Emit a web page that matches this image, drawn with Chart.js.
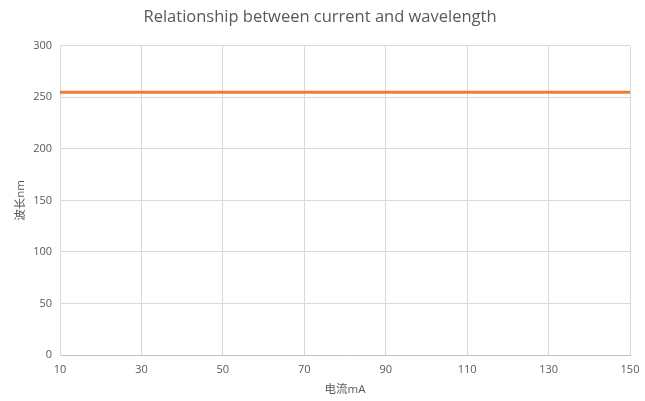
<!DOCTYPE html>
<html>
<head>
<meta charset="utf-8">
<script src="https://cdn.jsdelivr.net/npm/chart.js@4"></script>
<style>
  html, body { margin: 0; padding: 0; background: #fff; overflow: hidden; }
</style>
</head>
<body>
<canvas id="lineChart" width="645" height="401"></canvas>
<script>
// data
const currents = [10, 30, 50, 70, 90, 110, 130, 150];
const wavelengths = [255, 255, 255, 255, 255, 255, 255, 255];
const xTicks = [10, 30, 50, 70, 90, 110, 130, 150];
const yTicks = [0, 50, 100, 150, 200, 250, 300];

const fontFamily = '"Open Sans", "Noto Sans CJK SC", sans-serif';
const textColor = '#595959';
const gridColor = '#d9d9d9';

document.addEventListener("DOMContentLoaded", function() {

new Chart("lineChart", {
  type: "line",
  data: {
    datasets: [{
      label: "波长",
      data: currents.map((c, i) => ({ x: c, y: wavelengths[i] })),
      borderColor: "#ED7D31",
      borderWidth: 3,
      pointRadius: 0,
      tension: 0
    }]
  },
  options: {
    responsive: false,
    animation: false,
    layout: { padding: { left: 10, right: 15, top: 0, bottom: 4 } },
    plugins: {
      legend: { display: false },
      tooltip: { enabled: false },
      title: {
        display: true,
        text: "Relationship between current and wavelength",
        color: textColor,
        font: { family: fontFamily, size: 16.5, weight: "normal" },
        padding: { top: 7, bottom: 19 }
      }
    },
    scales: {
      x: {
        type: "linear",
        min: 10,
        max: 150,
        afterBuildTicks: s => { s.ticks = xTicks.map(v => ({ value: v })); },
        afterFit: s => { s.height = 42; s.paddingRight = 3; },
        ticks: { color: textColor, font: { family: fontFamily, size: 11 }, padding: 8 },
        grid: { color: gridColor, drawTicks: false },
        border: { color: "#bfbfbf" },
        title: {
          display: true,
          text: "电流mA",
          color: textColor,
          font: { family: fontFamily, size: 11.5 },
          padding: 0
        }
      },
      y: {
        min: 0,
        max: 300,
        afterBuildTicks: s => { s.ticks = yTicks.map(v => ({ value: v })); },
        afterFit: s => { s.width = 50; },
        ticks: { color: textColor, font: { family: fontFamily, size: 11 }, padding: 8 },
        grid: { color: gridColor, drawTicks: false },
        border: { color: gridColor },
        title: {
          display: true,
          text: "波长nm",
          color: textColor,
          font: { family: fontFamily, size: 11.5 },
          padding: { top: 4, bottom: 0 }
        }
      }
    }
  }
});
});
</script>
</body>
</html>
